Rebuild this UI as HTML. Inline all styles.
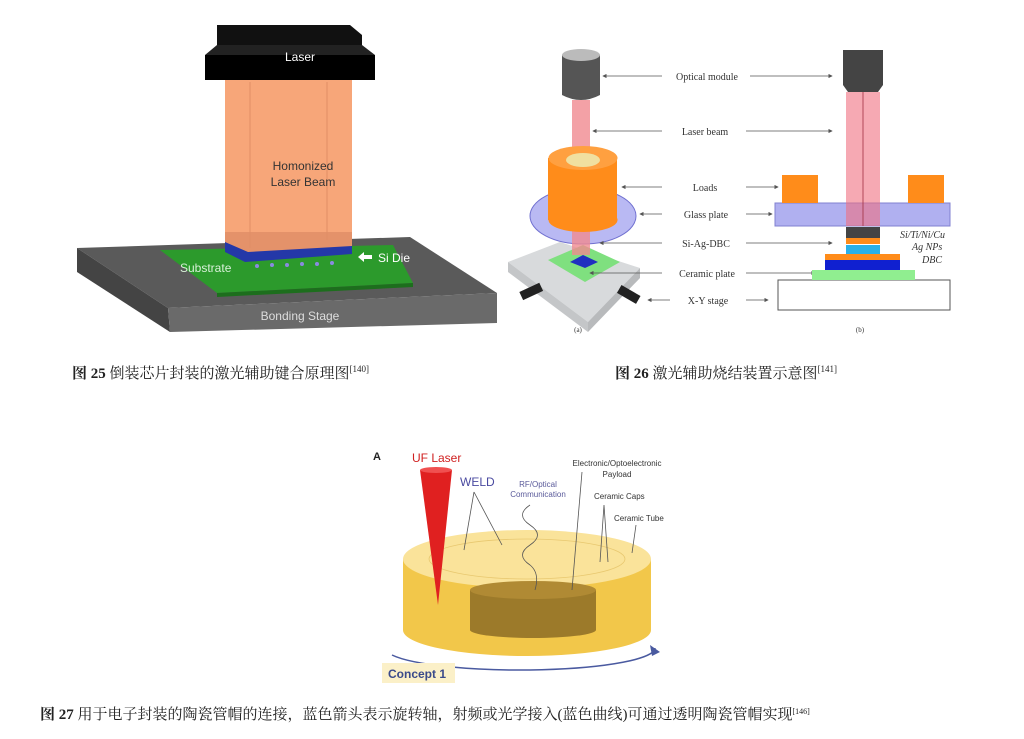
<!DOCTYPE html>
<html><head><meta charset="utf-8"><style>
html,body{margin:0;padding:0;background:#fff;}
svg{display:block}
.cap{font-family:"Liberation Serif","Noto Serif CJK SC",serif;font-size:15px;fill:#222}
.lb{font-family:"Liberation Serif",serif;font-size:10px;fill:#333}
.s{font-family:"Liberation Sans",sans-serif}
</style></head><body>
<svg width="1024" height="739" viewBox="0 0 1024 739" xmlns="http://www.w3.org/2000/svg">
<defs><marker id="ah" markerWidth="6" markerHeight="6" refX="5" refY="3" orient="auto"><path d="M0,0 L6,3 L0,6 Z" fill="#555"/></marker></defs>
<!-- Fig 25 -->
<polygon points="77,248 410,237 497,293 168,308" fill="#5a5a5a"/>
<polygon points="77,248 168,308 170,332 77,272" fill="#444"/>
<polygon points="168,308 497,293 497,323 170,332" fill="#6a6a6a"/>
<text x="300" y="320" class="s" font-size="12" fill="#ddd" text-anchor="middle">Bonding Stage</text>
<polygon points="160,250 393,245 413,283 217,293" fill="#2c9a2c"/>
<polygon points="217,293 413,283 413,287 217,297" fill="#1d6e1d"/>
<text x="180" y="272" class="s" font-size="12" fill="#d8f0d8">Substrate</text>
<polygon points="225,242 352,242 352,254 245,262 225,252" fill="#2438a8"/>
<g fill="#8a8ae0"><circle cx="257" cy="266" r="2"/><circle cx="272" cy="265" r="2"/><circle cx="287" cy="265" r="2"/><circle cx="302" cy="264" r="2"/><circle cx="317" cy="264" r="2"/><circle cx="332" cy="263" r="2"/></g>
<rect x="225" y="80" width="127" height="162" fill="#f7a679"/>
<polygon points="225,232 352,232 352,246 248,252 225,242" fill="#e4926a"/>
<line x1="250" y1="82" x2="250" y2="248" stroke="#e08f65"/>
<line x1="327" y1="82" x2="327" y2="240" stroke="#e08f65"/>
<text x="303" y="170" class="s" font-size="12" fill="#333" text-anchor="middle">Homonized</text>
<text x="303" y="186" class="s" font-size="12" fill="#333" text-anchor="middle">Laser Beam</text>
<polygon points="217,25 350,25 362,35 362,55 217,55" fill="#111"/>
<rect x="205" y="55" width="170" height="25" fill="#000"/>
<polygon points="205,55 217,45 362,45 375,55" fill="#222"/>
<text x="300" y="61" class="s" font-size="12" fill="#fff" text-anchor="middle">Laser</text>
<polygon points="358,257 364,252 364,255 372,255 372,259 364,259 364,262" fill="#fff"/>
<text x="378" y="262" class="s" font-size="12" fill="#fff">Si Die</text>
<text x="72" y="378" class="cap"><tspan font-weight="bold">图 25</tspan> 倒装芯片封装的激光辅助键合原理图<tspan font-size="9" dy="-6">[140]</tspan></text>

<!-- Fig 26 left -->
<polygon points="508,262 560,242 640,268 588,322" fill="#d8dadc"/>
<polygon points="508,262 588,322 588,332 508,272" fill="#c4c6c8"/>
<polygon points="588,322 640,268 640,278 588,332" fill="#b8babc"/>
<polygon points="548,260 583,245 620,262 585,282" fill="#7fe07f"/>
<polygon points="570,262 583,255 598,262 585,268" fill="#2030c0"/>
<rect x="520" y="287" width="22" height="9" fill="#222" transform="rotate(-25 531 291)"/>
<rect x="618" y="290" width="22" height="9" fill="#222" transform="rotate(30 629 294)"/>
<ellipse cx="583" cy="216" rx="53" ry="28" fill="#a8a8f0" fill-opacity="0.8" stroke="#7070d0"/>
<rect x="572" y="100" width="18" height="155" fill="#f08a90" opacity="0.8"/>
<rect x="548" y="158" width="69" height="62" fill="#ff8c1a"/>
<ellipse cx="583" cy="220" rx="34.5" ry="12" fill="#ff8c1a"/>
<ellipse cx="583" cy="158" rx="34.5" ry="12" fill="#ffa040"/>
<ellipse cx="583" cy="160" rx="17" ry="7" fill="#f0e0a0"/>
<rect x="562" y="55" width="38" height="40" fill="#555"/>
<ellipse cx="581" cy="55" rx="19" ry="6" fill="#bbb"/>
<path d="M562 95 Q581 105 600 95" fill="#555"/>
<g class="lb" text-anchor="middle">
<text x="707" y="80">Optical module</text><text x="705" y="135">Laser beam</text><text x="705" y="191">Loads</text><text x="706" y="218">Glass plate</text><text x="706" y="247">Si-Ag-DBC</text><text x="707" y="277">Ceramic plate</text><text x="708" y="304">X-Y stage</text>
<text x="578" y="332" font-size="7">(a)</text><text x="860" y="332" font-size="7">(b)</text>
</g>
<g stroke="#555" stroke-width="0.7" marker-end="url(#ah)">
<line x1="662" y1="76" x2="603" y2="76"/><line x1="750" y1="76" x2="832" y2="76"/>
<line x1="662" y1="131" x2="593" y2="131"/><line x1="746" y1="131" x2="832" y2="131"/>
<line x1="662" y1="187" x2="622" y2="187"/><line x1="746" y1="187" x2="778" y2="187"/>
<line x1="662" y1="214" x2="640" y2="214"/><line x1="746" y1="214" x2="772" y2="214"/>
<line x1="662" y1="243" x2="600" y2="243"/><line x1="746" y1="243" x2="832" y2="243"/>
<line x1="662" y1="273" x2="590" y2="273"/><line x1="746" y1="273" x2="815" y2="273"/>
<line x1="670" y1="300" x2="648" y2="300"/><line x1="746" y1="300" x2="768" y2="300"/>
</g>
<!-- Fig 26 right -->
<rect x="778" y="280" width="172" height="30" fill="#fff" stroke="#555"/>
<rect x="812" y="270" width="103" height="10" fill="#90ee90"/>
<rect x="825" y="260" width="75" height="10" fill="#1020d0"/>
<rect x="825" y="254" width="75" height="6" fill="#ff8c1a"/>
<rect x="846" y="245" width="34" height="9" fill="#2ab0e8"/>
<rect x="846" y="238" width="34" height="6" fill="#ff8c1a"/>
<rect x="846" y="227" width="34" height="11" fill="#444"/>
<rect x="775" y="203" width="175" height="23" fill="#b0b0f0" stroke="#8080d0"/>
<rect x="782" y="175" width="36" height="28" fill="#ff8c1a"/>
<rect x="908" y="175" width="36" height="28" fill="#ff8c1a"/>
<rect x="846" y="92" width="34" height="134" fill="#f07080" opacity="0.6"/>
<line x1="863" y1="92" x2="863" y2="226" stroke="#a03040" stroke-width="0.8"/>
<polygon points="843,50 883,50 883,85 878,92 848,92 843,85" fill="#444"/>
<g class="lb" font-size="7" font-style="italic"><text x="900" y="238">Si/Ti/Ni/Cu</text><text x="912" y="250">Ag NPs</text><text x="922" y="263">DBC</text></g>
<text x="615" y="378" class="cap"><tspan font-weight="bold">图 26</tspan> 激光辅助烧结装置示意图<tspan font-size="9" dy="-6">[141]</tspan></text>

<!-- Fig 27 -->
<path d="M403,559 L403,630 A124,26 0 0 0 651,630 L651,559 Z" fill="#f2c74a"/>
<ellipse cx="527" cy="559" rx="124" ry="29" fill="#fae39a"/>
<ellipse cx="527" cy="559" rx="98" ry="20" fill="none" stroke="#e8c870" stroke-width="0.8"/>
<path d="M470,590 L470,630 A63,8 0 0 0 596,630 L596,590 Z" fill="#9c7a2a"/>
<ellipse cx="533" cy="590" rx="63" ry="9" fill="#b08a34"/>
<polygon points="420,470 452,470 438,605" fill="#e02020"/>
<ellipse cx="436" cy="470" rx="16" ry="3" fill="#f05050"/>
<path d="M392,655 A135,22 0 0 0 655,648" fill="none" stroke="#4a5aa0" stroke-width="1.5"/>
<polygon points="650,645 660,652 652,656" fill="#4a5aa0"/>
<rect x="382" y="663" width="73" height="20" fill="#fbf0c8"/>
<text x="388" y="678" class="s" font-size="12" font-weight="bold" fill="#3a4a8a">Concept 1</text>
<text x="373" y="460" class="s" font-size="11" font-weight="bold" fill="#222">A</text>
<text x="412" y="462" class="s" font-size="12" fill="#d02020">UF Laser</text>
<text x="460" y="486" class="s" font-size="12" fill="#4a4aa0">WELD</text>
<text x="538" y="487" class="s" font-size="8" fill="#5a5a9a" text-anchor="middle">RF/Optical</text>
<text x="538" y="497" class="s" font-size="8" fill="#5a5a9a" text-anchor="middle">Communication</text>
<text x="617" y="466" class="s" font-size="8" fill="#333" text-anchor="middle">Electronic/Optoelectronic</text>
<text x="617" y="477" class="s" font-size="8" fill="#333" text-anchor="middle">Payload</text>
<text x="594" y="499" class="s" font-size="8" fill="#333">Ceramic Caps</text>
<text x="614" y="521" class="s" font-size="8" fill="#333">Ceramic Tube</text>
<g stroke="#555" stroke-width="0.8" fill="none">
<path d="M474,492 L464,550 M474,492 L502,545"/>
<path d="M530,505 q-15,10 0,20 q15,10 0,20 q-15,10 0,20 q10,8 5,25"/>
<path d="M582,472 L572,590"/>
<path d="M604,505 L600,562 M604,505 L608,562"/>
<path d="M636,525 L632,553"/>
</g>
<text x="40" y="719" class="cap" font-size="13"><tspan font-weight="bold">图 27</tspan> 用于电子封装的陶瓷管帽的连接，蓝色箭头表示旋转轴，射频或光学接入(蓝色曲线)可通过透明陶瓷管帽实现<tspan font-size="8" dy="-5">[146]</tspan></text>
</svg>
</body></html>
